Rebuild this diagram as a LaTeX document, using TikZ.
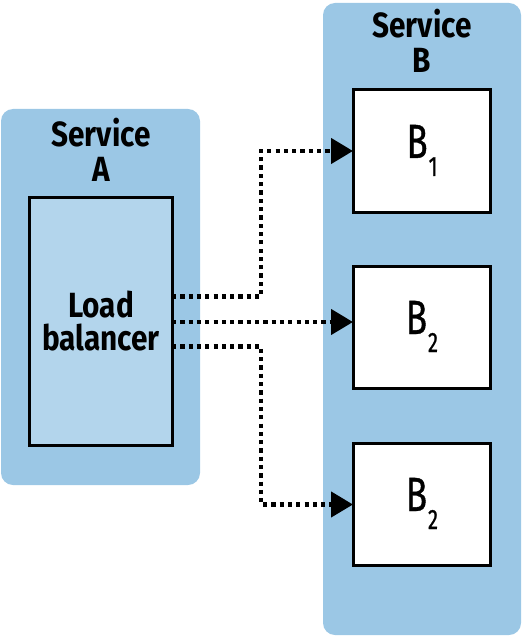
\documentclass[tikz,border=0pt]{standalone}
\usepackage{fontspec}
\setmainfont{Fira Sans}[FakeStretch=0.85]
\newfontfamily\bfontfam{Fira Sans}[FakeStretch=0.72,FakeBold=0.8]
\usetikzlibrary{arrows.meta,calc}
\definecolor{outerblue}{RGB}{155,199,229}
\definecolor{innerblue}{RGB}{179,213,236}
\tikzset{
  container/.style={fill=outerblue, draw=none, rounded corners=12pt},
  lbbox/.style={draw=black, fill=innerblue, line width=3pt, outer sep=0pt, inner sep=0pt},
  bbox/.style={draw=black, fill=white, line width=3pt, outer sep=0pt, inner sep=0pt, minimum width=137pt, minimum height=122pt},
  title/.style={font=\bfseries\fontsize{35}{35}\selectfont, anchor=base, inner sep=0pt},
  blabel/.style={font=\bfontfam\fontsize{48}{48}\selectfont, anchor=base, inner sep=0pt},
  dotline/.style={line width=4.4pt, line cap=butt, dash pattern=on 4.2pt off 4.1pt, -{Triangle[length=22pt,width=25pt]}}
}
\newcommand{\bsub}[1]{B\kern1pt\raisebox{-18pt}{\fontsize{28}{28}\selectfont #1}}
\begin{document}
\begin{tikzpicture}[x=1pt,y=-1pt]
\useasboundingbox (0,0) rectangle (522,636);
% containers
\path[container] (1,109) rectangle (200,485);
\path[container] (323,3) rectangle (521,635);
\node[title] (sa1) at (101,147) {Service};
\node[title] (sa2) at (101,182) {A};
\node[title] (sb1) at (422,38) {Service};
\node[title] (sb2) at (422,73) {B};
% load balancer
\node[lbbox, minimum width=143pt, minimum height=247pt] (lb) at (100.5,321.5) {};
\node[title] (lb1) at (101,317) {Load};
\node[title] (lb2) at (101,350) {balancer};
% B boxes
\node[bbox] (b1) at (421.5,151) {};
\node[bbox] (b2) at (421.5,327.5) {};
\node[bbox] (b3) at (421.5,504.5) {};
\node[blabel] (t1) at (422,158) {\bsub{1}};
\node[blabel] (t2) at (422,334) {\bsub{2}};
\node[blabel] (t3) at (422,511) {\bsub{2}};
% connectors
\coordinate (mid) at (261,0);
\coordinate (s1) at ([yshift=25pt]lb.east);
\coordinate (s2) at ([yshift=-0.5pt]lb.east);
\coordinate (s3) at ([yshift=-25pt]lb.east);
\draw[dotline] (s1) -| (mid |- b1.west) -- (b1.west);
\draw[dotline] (s2) -- (s2 -| b2.west);
\draw[dotline] (s3) -| (mid |- b3.west) -- (b3.west);
\end{tikzpicture}
\end{document}
